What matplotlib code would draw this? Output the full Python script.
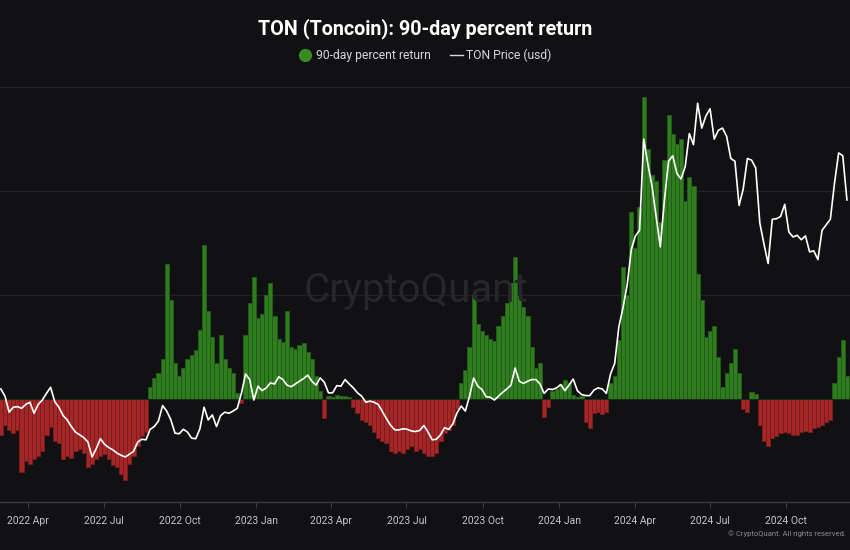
import numpy as np
import pandas as pd
import matplotlib
matplotlib.use("Agg")
import matplotlib.pyplot as plt
from matplotlib.lines import Line2D

plt.rcParams['font.family'] = ['Roboto', 'DejaVu Sans']

# ---------------- data (5-day samples starting 2022-02-27) ----------------
start_date = "2022-02-27"
step_days = 5

returns_pct = [
    -35, -25, -30, -33, -30, -70, -60, -62, -58, -55,
    -50, -35, -27, -40, -42, -58, -55, -57, -50, -48,
    -52, -65, -62, -58, -55, -53, -58, -63, -65, -72,
    -78, -62, -55, -45, -36, -32, 12, 20, 25, 38,
    130, 95, 35, 22, 30, 38, 42, 47, 66, 148,
    85, 60, 35, 62, 38, 30, 25, 6, -4, 62,
    92, 117, 78, 82, 100, 112, 80, 58, 55, 85,
    50, 48, 52, 54, 45, 38, 22, 8, -18, 3,
    2, 4, 3, 3, 2, -8, -13, -20, -22, -25,
    -32, -37, -40, -42, -50, -52, -50, -52, -48, -45,
    -50, -48, -52, -55, -55, -52, -40, -33, -30, -25,
    -10, 15, 28, 50, 100, 72, 65, 62, 58, 56,
    70, 80, 92, 112, 137, 100, 88, 80, 50, 30,
    35, -17, -8, 8, 10, 14, 18, 15, 4, 2,
    3, -22, -28, -13, -12, -14, -12, 15, 22, 57,
    127, 100, 180, 145, 185, 290, 240, 215, 210, 170,
    230, 273, 255, 245, 250, 190, 213, 205, 120, 95,
    60, 65, 70, 40, 12, 25, 35, 48, 25, -10,
    -12, 7, 5, -25, -40, -45, -37, -36, -33, -32,
    -33, -35, -35, -32, -31, -32, -28, -27, -25, -22,
    -20, 15, 40, 57, 22,
]

price_usd = [
    2.28, 2.15, 1.86, 1.95, 1.96, 1.93, 2.00, 2.04, 1.84, 2.00,
    2.08, 2.20, 2.31, 2.05, 1.95, 1.80, 1.72, 1.60, 1.50, 1.45,
    1.40, 1.32, 1.05, 1.20, 1.38, 1.28, 1.22, 1.18, 1.12, 1.08,
    1.05, 1.10, 1.15, 1.32, 1.37, 1.36, 1.55, 1.60, 1.70, 1.98,
    1.88, 1.72, 1.48, 1.47, 1.55, 1.50, 1.39, 1.38, 1.56, 1.95,
    1.72, 1.81, 1.60, 1.80, 1.86, 1.84, 1.88, 1.93, 2.20, 2.55,
    2.45, 2.08, 2.33, 2.25, 2.30, 2.39, 2.37, 2.50, 2.45, 2.35,
    2.32, 2.37, 2.42, 2.47, 2.53, 2.42, 2.35, 2.48, 2.40, 2.21,
    2.21, 2.34, 2.33, 2.45, 2.37, 2.30, 2.21, 2.15, 2.04, 2.06,
    2.04, 2.00, 1.87, 1.74, 1.62, 1.54, 1.54, 1.56, 1.55, 1.52,
    1.51, 1.53, 1.62, 1.50, 1.36, 1.37, 1.45, 1.58, 1.55, 1.65,
    1.85, 1.97, 1.88, 2.15, 2.48, 2.33, 2.27, 2.14, 2.13, 2.08,
    2.15, 2.22, 2.28, 2.35, 2.66, 2.42, 2.38, 2.42, 2.45, 2.45,
    2.37, 2.20, 2.28, 2.27, 2.30, 2.36, 2.25, 2.35, 2.46, 2.25,
    2.18, 2.16, 2.16, 2.26, 2.30, 2.28, 2.20, 2.55, 2.74, 3.40,
    3.75, 4.15, 4.80, 5.05, 5.15, 6.80, 6.35, 5.95, 5.40, 4.85,
    5.70, 6.40, 6.50, 6.18, 6.08, 6.30, 6.90, 6.70, 7.45, 7.00,
    7.22, 7.35, 6.80, 6.96, 7.00, 6.85, 6.45, 6.40, 5.60, 5.90,
    6.45, 6.42, 6.28, 5.28, 4.90, 4.55, 5.35, 5.36, 5.40, 5.62,
    5.12, 5.03, 5.06, 4.98, 5.05, 4.76, 4.78, 4.62, 5.15, 5.25,
    5.35, 6.00, 6.55, 6.50, 5.70,
]

tick_dates = ["2022-04-01", "2022-07-01", "2022-10-01", "2023-01-01", "2023-04-01",
              "2023-07-01", "2023-10-01", "2024-01-01", "2024-04-01", "2024-07-01",
              "2024-10-01"]
tick_labels = ["2022 Apr", "2022 Jul", "2022 Oct", "2023 Jan", "2023 Apr",
               "2023 Jul", "2023 Oct", "2024 Jan", "2024 Apr", "2024 Jul",
               "2024 Oct"]

# ---------------- style ----------------
BG = "#111114"
GREEN = "#2f7d1e"
GREEN_EDGE = "#235c17"
RED = "#a52626"
RED_EDGE = "#7a1c1c"
GRID = "#222226"

dates = pd.date_range(start_date, periods=len(returns_pct), freq=f"{step_days}D")

W, H = 850, 550
fig = plt.figure(figsize=(W / 100, H / 100), dpi=100, facecolor=BG)

top_px, bot_px = 80, 502
ax = fig.add_axes([0, 1 - bot_px / H, 1, (bot_px - top_px) / H])
ax.set_facecolor(BG)

# watermark
fig.text(416 / W, 1 - 290 / H, "CryptoQuant", fontsize=29, color="#26262b",
         ha="center", va="center", zorder=0)

colors = [GREEN if v >= 0 else RED for v in returns_pct]
edges = [GREEN_EDGE if v >= 0 else RED_EDGE for v in returns_pct]
ax.bar(dates, returns_pct, width=step_days, color=colors, edgecolor=edges,
       linewidth=0.7, zorder=2)

ax.set_ylim(-99, 306.7)
x0 = pd.Timestamp("2022-02-26")
ax.set_xlim(x0, x0 + pd.Timedelta(days=1024.7))

for g in (100, 200, 300):
    ax.axhline(g, color=GRID, lw=0.9, zorder=1)
ax.axhline(0, color="#1c2a1a", lw=0.8, zorder=3)

ax.set_yticks([])
for s in ("top", "left", "right"):
    ax.spines[s].set_visible(False)
ax.spines["bottom"].set_color("#3c3c40")
ax.spines["bottom"].set_linewidth(1.0)

ax.set_xticks(pd.to_datetime(tick_dates))
ax.set_xticklabels(tick_labels)
ax.tick_params(axis="x", colors="#3c3c40", length=4, width=0.8, pad=6,
               labelsize=7.5, labelcolor="#c4c4c8")

ax2 = ax.twinx()
ax2.plot(dates, price_usd, color="white", lw=1.2, zorder=5)
ax2.set_ylim(0.235, 7.87)
ax2.set_yticks([])
for s in ax2.spines.values():
    s.set_visible(False)

# title and legend
fig.text(0.5, 1 - 29 / H, "TON (Toncoin): 90-day percent return", ha="center",
         va="center", fontsize=14.2, fontweight="bold", color="white")
ly = 1 - 55 / H
fig.add_artist(Line2D([305 / W], [ly], marker="o", markersize=8.5, color="#3a8a22",
                      transform=fig.transFigure, linestyle="none"))
fig.text(316 / W, ly, "90-day percent return", ha="left", va="center",
         fontsize=8.7, color="#d8d8dc")
fig.add_artist(Line2D([450 / W, 463 / W], [ly, ly], color="#d8d8dc", lw=1.0,
                      transform=fig.transFigure))
fig.text(466 / W, ly, "TON Price (usd)", ha="left", va="center",
         fontsize=8.7, color="#d8d8dc")

fig.text(846 / W, 1 - 534 / H, "\u00a9 CryptoQuant. All rights reserved.", ha="right",
         va="center", fontsize=5.5, color="#8a8a90")

fig.savefig("out.png", dpi=100, facecolor=BG)
